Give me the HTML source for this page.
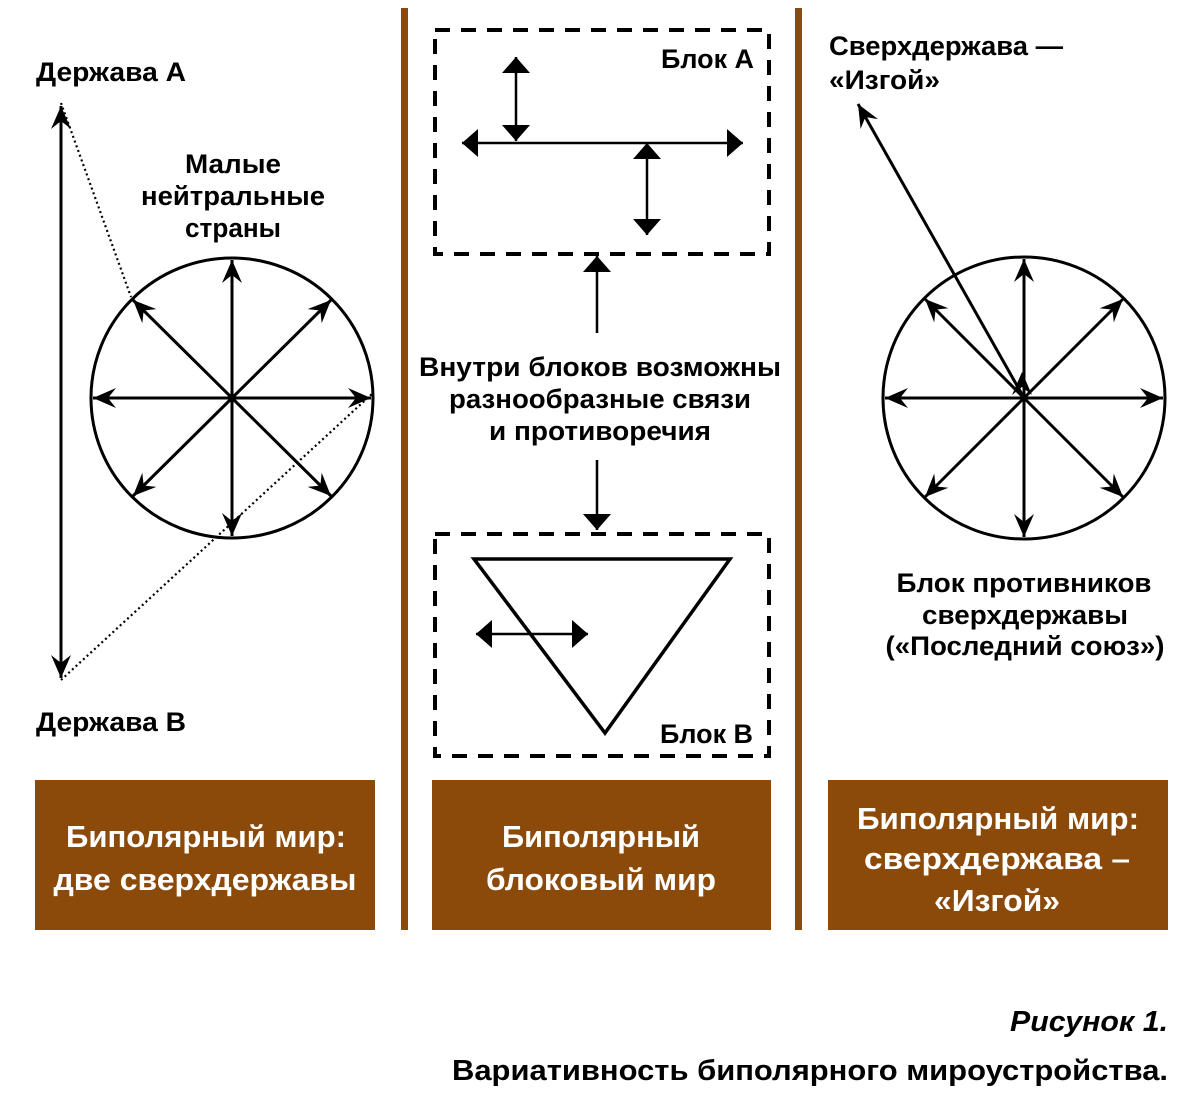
<!DOCTYPE html>
<html><head><meta charset="utf-8"><style>
html,body{margin:0;padding:0;background:#fff;}
svg{display:block;}
text{font-family:"Liberation Sans","DejaVu Sans",sans-serif;font-weight:bold;}
</style></head><body>
<svg width="1200" height="1120" viewBox="0 0 1200 1120" xmlns="http://www.w3.org/2000/svg">
<defs>
  <marker id="b" viewBox="-24 -12 26 24" refX="0" refY="0" markerWidth="26" markerHeight="24" markerUnits="userSpaceOnUse" orient="auto-start-reverse">
    <path d="M0,0 L-23,-10 L-15,0 L-23,10 Z" fill="#000"/>
  </marker>
  <marker id="t" viewBox="-20 -15 22 30" refX="0" refY="0" markerWidth="22" markerHeight="30" markerUnits="userSpaceOnUse" orient="auto-start-reverse">
    <path d="M0,0 L-16,-14 L-16,14 Z" fill="#000"/>
  </marker>
</defs>

<rect x="401" y="8" width="7" height="922" fill="#8B4A0A"/>
<rect x="795" y="8" width="7" height="922" fill="#8B4A0A"/>

<!-- LEFT panel -->
<text x="36" y="81" font-size="27" textLength="150" lengthAdjust="spacingAndGlyphs">Держава А</text>
<text x="36" y="731" font-size="27" textLength="150" lengthAdjust="spacingAndGlyphs">Держава В</text>
<text x="233" y="173" font-size="27" text-anchor="middle" textLength="96" lengthAdjust="spacingAndGlyphs">Малые</text>
<text x="233" y="205" font-size="27" text-anchor="middle" textLength="184" lengthAdjust="spacingAndGlyphs">нейтральные</text>
<text x="233" y="237" font-size="27" text-anchor="middle" textLength="96" lengthAdjust="spacingAndGlyphs">страны</text>

<line x1="61" y1="106" x2="61" y2="678" stroke="#000" stroke-width="3" marker-start="url(#b)" marker-end="url(#b)"/>
<line x1="61" y1="103" x2="131" y2="297" stroke="#000" stroke-width="2.2" stroke-dasharray="2,3"/>
<line x1="61" y1="680" x2="373" y2="393" stroke="#000" stroke-width="2.2" stroke-dasharray="2,3"/>

<ellipse cx="232" cy="398" rx="141" ry="140" fill="none" stroke="#000" stroke-width="3"/>
<g stroke="#000" stroke-width="3">
  <line x1="232" y1="398" x2="232" y2="260" marker-end="url(#b)"/>
  <line x1="232" y1="398" x2="232" y2="536" marker-end="url(#b)"/>
  <line x1="232" y1="398" x2="93" y2="398" marker-end="url(#b)"/>
  <line x1="232" y1="398" x2="371" y2="398" marker-end="url(#b)"/>
  <line x1="232" y1="398" x2="133" y2="300" marker-end="url(#b)"/>
  <line x1="232" y1="398" x2="331" y2="300" marker-end="url(#b)"/>
  <line x1="232" y1="398" x2="133" y2="496" marker-end="url(#b)"/>
  <line x1="232" y1="398" x2="331" y2="496" marker-end="url(#b)"/>
</g>

<!-- MIDDLE panel -->
<rect x="435" y="30" width="334" height="224" fill="none" stroke="#000" stroke-width="4" stroke-dasharray="15,11"/>
<rect x="435" y="534" width="334" height="222" fill="none" stroke="#000" stroke-width="4" stroke-dasharray="15,11"/>
<text x="754" y="68" font-size="27" text-anchor="end" textLength="93" lengthAdjust="spacingAndGlyphs">Блок А</text>
<text x="753" y="743" font-size="27" text-anchor="end" textLength="93" lengthAdjust="spacingAndGlyphs">Блок В</text>

<g stroke="#000" stroke-width="2.5">
  <line x1="462" y1="143" x2="743" y2="143" marker-start="url(#t)" marker-end="url(#t)"/>
  <line x1="516" y1="57" x2="516" y2="141" marker-start="url(#t)" marker-end="url(#t)"/>
  <line x1="647" y1="143" x2="647" y2="235" marker-start="url(#t)" marker-end="url(#t)"/>
  <line x1="476" y1="634" x2="588" y2="634" marker-start="url(#t)" marker-end="url(#t)"/>
  <line x1="597" y1="333" x2="597" y2="256" marker-end="url(#t)"/>
  <line x1="597" y1="460" x2="597" y2="530" marker-end="url(#t)"/>
</g>
<polygon points="474,559 730,559 605,733" fill="none" stroke="#000" stroke-width="3.5"/>

<text x="600" y="376" font-size="27" text-anchor="middle" textLength="362" lengthAdjust="spacingAndGlyphs">Внутри блоков возможны</text>
<text x="600" y="408" font-size="27" text-anchor="middle" textLength="302" lengthAdjust="spacingAndGlyphs">разнообразные связи</text>
<text x="600" y="440" font-size="27" text-anchor="middle" textLength="222" lengthAdjust="spacingAndGlyphs">и противоречия</text>

<!-- RIGHT panel -->
<text x="829" y="55" font-size="27" textLength="234" lengthAdjust="spacingAndGlyphs">Сверхдержава —</text>
<text x="829" y="89" font-size="27" textLength="111" lengthAdjust="spacingAndGlyphs">«Изгой»</text>
<line x1="1024" y1="398" x2="858" y2="104" stroke="#000" stroke-width="3" marker-end="url(#b)"/>
<line x1="1022" y1="394" x2="1022" y2="372" stroke="#000" stroke-width="0" marker-end="url(#b)"/>
<circle cx="1024" cy="398" r="141" fill="none" stroke="#000" stroke-width="3"/>
<g stroke="#000" stroke-width="3">
  <line x1="1024" y1="398" x2="1024" y2="259" marker-end="url(#b)"/>
  <line x1="1024" y1="398" x2="1024" y2="537" marker-end="url(#b)"/>
  <line x1="1024" y1="398" x2="885" y2="398" marker-end="url(#b)"/>
  <line x1="1024" y1="398" x2="1163" y2="398" marker-end="url(#b)"/>
  <line x1="1024" y1="398" x2="925" y2="299" marker-end="url(#b)"/>
  <line x1="1024" y1="398" x2="1123" y2="299" marker-end="url(#b)"/>
  <line x1="1024" y1="398" x2="925" y2="497" marker-end="url(#b)"/>
  <line x1="1024" y1="398" x2="1123" y2="497" marker-end="url(#b)"/>
</g>
<text x="1024" y="592" font-size="27" text-anchor="middle" textLength="255" lengthAdjust="spacingAndGlyphs">Блок противников</text>
<text x="1025" y="624" font-size="27" text-anchor="middle" textLength="206" lengthAdjust="spacingAndGlyphs">сверхдержавы</text>
<text x="1025" y="655" font-size="27" text-anchor="middle" textLength="279" lengthAdjust="spacingAndGlyphs">(«Последний союз»)</text>

<rect x="35" y="780" width="340" height="150" fill="#8B4A0A"/>
<rect x="432" y="780" width="339" height="150" fill="#8B4A0A"/>
<rect x="828" y="780" width="340" height="150" fill="#8B4A0A"/>
<g fill="#fff" font-size="31" text-anchor="middle">
  <text x="206" y="847" textLength="280" lengthAdjust="spacingAndGlyphs">Биполярный мир:</text>
  <text x="205" y="890" textLength="303" lengthAdjust="spacingAndGlyphs">две сверхдержавы</text>
  <text x="601" y="847" textLength="198" lengthAdjust="spacingAndGlyphs">Биполярный</text>
  <text x="601" y="890" textLength="230" lengthAdjust="spacingAndGlyphs">блоковый мир</text>
  <text x="998" y="829" textLength="282" lengthAdjust="spacingAndGlyphs">Биполярный мир:</text>
  <text x="997" y="869" textLength="266" lengthAdjust="spacingAndGlyphs">сверхдержава –</text>
  <text x="997" y="911" textLength="126" lengthAdjust="spacingAndGlyphs">«Изгой»</text>
</g>

<text x="1168" y="1031" font-size="29" font-style="italic" text-anchor="end" textLength="158" lengthAdjust="spacingAndGlyphs">Рисунок 1.</text>
<text x="1168" y="1080" font-size="29" text-anchor="end" textLength="716" lengthAdjust="spacingAndGlyphs">Вариативность биполярного мироустройства.</text>
</svg>
</body></html>
